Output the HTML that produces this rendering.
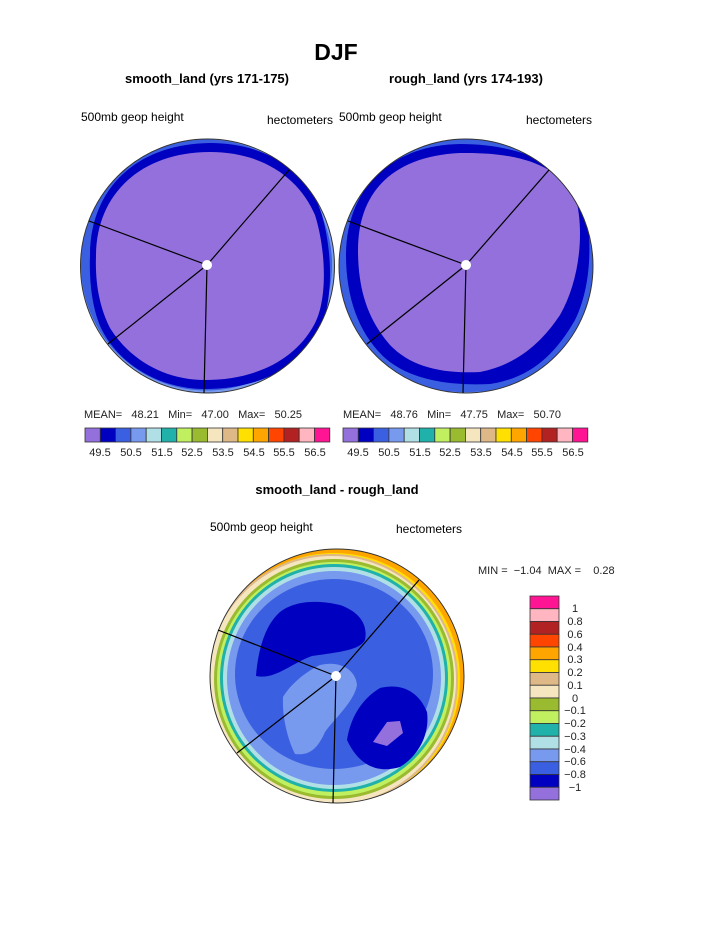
<!DOCTYPE html>
<html><head><meta charset="utf-8"><style>body{margin:0;background:#fff}svg{display:block}text{font-family:"Liberation Sans",sans-serif;white-space:pre}</style></head><body>
<svg width="723" height="935" viewBox="0 0 723 935">
<defs>
<clipPath id="cb"><circle cx="337" cy="676" r="127"/></clipPath>
<clipPath id="cl"><circle cx="207.5" cy="266" r="127"/></clipPath>
<clipPath id="cr"><circle cx="466" cy="266" r="127"/></clipPath>
</defs>
<text x="336" y="60" font-size="23" font-weight="bold" text-anchor="middle">DJF</text>
<text x="207" y="83" font-size="13" font-weight="bold" text-anchor="middle">smooth_land (yrs 171-175)</text>
<text x="466" y="83" font-size="13" font-weight="bold" text-anchor="middle">rough_land (yrs 174-193)</text>
<text x="81" y="121" font-size="12">500mb geop height</text>
<text x="267" y="124" font-size="12">hectometers</text>
<text x="339" y="121" font-size="12">500mb geop height</text>
<text x="526" y="124" font-size="12">hectometers</text>
<!-- left circle -->
<g clip-path="url(#cl)">
<circle cx="207.5" cy="266" r="127" fill="#7799ee"/>
<circle cx="206.5" cy="265" r="125.5" fill="#3a5fe0"/>
<path d="M90,255 C90,190 135,144 210,143 C270,143 310,175 322,215 C333,255 333,300 320,330 C300,370 255,389 205,389 C160,389 120,365 102,330 C92,310 89,280 90,255Z" fill="#0000c0"/>
<path d="M96,256 C96,195 140,152 210,152 C265,152 300,180 315,215 C326,250 328,300 314,325 C295,360 255,380 205,380 C165,380 130,360 110,328 C100,308 95,285 96,256Z" fill="#9370db"/>
</g>
<circle cx="207.5" cy="266" r="127" fill="none" stroke="#333" stroke-width="1"/>
<g stroke="#000" stroke-width="1.2"><line x1="207" y1="265" x2="89" y2="221"/><line x1="207" y1="265" x2="289" y2="170"/><line x1="207" y1="265" x2="108" y2="344"/><line x1="207" y1="265" x2="204" y2="393"/></g>
<circle cx="207" cy="265" r="5" fill="#fff"/>
<!-- right circle -->
<g clip-path="url(#cr)">
<circle cx="466" cy="266" r="127" fill="#7799ee"/>
<path d="M339,262 C339,190 390,139 466,139 C540,139 593,190 593,262 C593,300 585,330 570,355 C545,385 500,392 466,392 C420,392 385,380 365,355 C348,330 339,300 339,262Z" fill="#3a5fe0"/>
<path d="M346,255 C346,190 390,145 460,144 C520,144 565,165 585,200 C592,240 592,285 575,320 C555,355 530,378 490,384 C450,386 410,380 385,358 C360,335 346,300 346,255Z" fill="#0000c0"/>
<path d="M358,250 C358,190 395,156 460,153 C520,152 555,165 575,195 C585,230 580,280 560,315 C540,345 515,365 480,372 C440,374 410,366 390,345 C368,320 358,290 358,250Z" fill="#9370db"/>
</g>
<circle cx="466" cy="266" r="127" fill="none" stroke="#333" stroke-width="1"/>
<g stroke="#000" stroke-width="1.2"><line x1="466" y1="265" x2="348" y2="221"/><line x1="466" y1="265" x2="549" y2="170"/><line x1="466" y1="265" x2="367" y2="344"/><line x1="466" y1="265" x2="463" y2="393"/></g>
<circle cx="466" cy="265" r="5" fill="#fff"/>
<!-- top colorbars -->
<g font-size="11" fill="#222">
<text x="84" y="418" xml:space="preserve">MEAN=   48.21   Min=   47.00   Max=   50.25</text>
<text x="343" y="418" xml:space="preserve">MEAN=   48.76   Min=   47.75   Max=   50.70</text>
</g>
<g id="cbar" stroke="#333" stroke-width="0.8">
<rect x="85" y="428" width="15.3" height="14" fill="#9370db"/><rect x="100.3" y="428" width="15.3" height="14" fill="#0000c0"/><rect x="115.6" y="428" width="15.3" height="14" fill="#3a5fe0"/><rect x="130.9" y="428" width="15.3" height="14" fill="#7799ee"/><rect x="146.2" y="428" width="15.3" height="14" fill="#b0e0e6"/><rect x="161.5" y="428" width="15.3" height="14" fill="#20b2aa"/><rect x="176.8" y="428" width="15.3" height="14" fill="#c0f060"/><rect x="192.1" y="428" width="15.3" height="14" fill="#9abb30"/><rect x="207.4" y="428" width="15.3" height="14" fill="#f5e6c0"/><rect x="222.7" y="428" width="15.3" height="14" fill="#deb887"/><rect x="238" y="428" width="15.3" height="14" fill="#ffe000"/><rect x="253.3" y="428" width="15.3" height="14" fill="#ffa500"/><rect x="268.6" y="428" width="15.3" height="14" fill="#ff4500"/><rect x="283.9" y="428" width="15.3" height="14" fill="#b22222"/><rect x="299.2" y="428" width="15.3" height="14" fill="#ffb6c1"/><rect x="314.5" y="428" width="15.3" height="14" fill="#ff1493"/>
</g>
<use href="#cbar" x="258"/>
<g font-size="11" fill="#222" text-anchor="middle">
<text x="100" y="456">49.5</text><text x="131" y="456">50.5</text><text x="162" y="456">51.5</text><text x="192" y="456">52.5</text><text x="223" y="456">53.5</text><text x="254" y="456">54.5</text><text x="284" y="456">55.5</text><text x="315" y="456">56.5</text>
<text x="358" y="456">49.5</text><text x="389" y="456">50.5</text><text x="420" y="456">51.5</text><text x="450" y="456">52.5</text><text x="481" y="456">53.5</text><text x="512" y="456">54.5</text><text x="542" y="456">55.5</text><text x="573" y="456">56.5</text>
</g>
<text x="337" y="494" font-size="13" font-weight="bold" text-anchor="middle">smooth_land - rough_land</text>
<text x="210" y="531" font-size="12">500mb geop height</text>
<text x="396" y="533" font-size="12">hectometers</text>
<text x="478" y="574" font-size="11" fill="#222" xml:space="preserve">MIN =  −1.04  MAX =    0.28</text>
<!-- bottom circle -->
<g clip-path="url(#cb)">
<circle cx="337" cy="676" r="127" fill="#ffa500"/>
<circle cx="334" cy="679" r="126" fill="#ffe000"/>
<circle cx="332" cy="680" r="126" fill="#deb887"/>
<circle cx="332" cy="680" r="124" fill="#f5e6c0"/>
<circle cx="334" cy="679" r="120" fill="#9abb30"/>
<circle cx="334" cy="679" r="117" fill="#c0f060"/>
<circle cx="334" cy="678" r="114" fill="#20b2aa"/>
<circle cx="334" cy="678" r="111" fill="#b0e0e6"/>
<circle cx="334" cy="678" r="107" fill="#7799ee"/>
<ellipse cx="334" cy="674" rx="99" ry="95" fill="#3a5fe0"/>
<path d="M256,676 C258,650 265,625 280,612 C295,600 320,600 340,605 C360,612 368,625 365,640 C360,650 340,652 312,656 C290,664 275,680 256,676Z" fill="#0000c0"/>
<path d="M283,697 C290,685 305,672 320,665 C340,660 356,670 357,685 C354,702 335,718 325,732 C318,748 310,756 295,754 C288,740 282,718 283,697Z" fill="#7799ee"/>
<path d="M347,740 C350,720 360,700 380,688 C400,683 418,690 427,712 C430,735 418,756 400,767 C380,773 360,768 347,740Z" fill="#0000c0"/>
<path d="M373,742 L387,722 L400,721 L403,733 L387,746Z" fill="#9370db"/>
</g>
<circle cx="337" cy="676" r="127" fill="none" stroke="#333" stroke-width="1"/>
<g stroke="#000" stroke-width="1.2"><line x1="336" y1="676" x2="218" y2="630"/><line x1="336" y1="676" x2="419" y2="580"/><line x1="336" y1="676" x2="237" y2="753"/><line x1="336" y1="676" x2="333" y2="803"/></g>
<circle cx="336" cy="676" r="5" fill="#fff"/>
<!-- bottom colorbar -->
<g stroke="#333" stroke-width="0.8">
<rect x="530" y="596" width="29" height="12.75" fill="#ff1493"/><rect x="530" y="608.75" width="29" height="12.75" fill="#ffb6c1"/><rect x="530" y="621.5" width="29" height="12.75" fill="#b22222"/><rect x="530" y="634.25" width="29" height="12.75" fill="#ff4500"/><rect x="530" y="647" width="29" height="12.75" fill="#ffa500"/><rect x="530" y="659.75" width="29" height="12.75" fill="#ffe000"/><rect x="530" y="672.5" width="29" height="12.75" fill="#deb887"/><rect x="530" y="685.25" width="29" height="12.75" fill="#f5e6c0"/><rect x="530" y="698" width="29" height="12.75" fill="#9abb30"/><rect x="530" y="710.75" width="29" height="12.75" fill="#c0f060"/><rect x="530" y="723.5" width="29" height="12.75" fill="#20b2aa"/><rect x="530" y="736.25" width="29" height="12.75" fill="#b0e0e6"/><rect x="530" y="749" width="29" height="12.75" fill="#7799ee"/><rect x="530" y="761.75" width="29" height="12.75" fill="#3a5fe0"/><rect x="530" y="774.5" width="29" height="12.75" fill="#0000c0"/><rect x="530" y="787.25" width="29" height="12.75" fill="#9370db"/>
</g>
<g font-size="11" fill="#222" text-anchor="middle">
<text x="575" y="612">1</text><text x="575" y="625">0.8</text><text x="575" y="638">0.6</text><text x="575" y="651">0.4</text><text x="575" y="663">0.3</text><text x="575" y="676">0.2</text><text x="575" y="689">0.1</text><text x="575" y="702">0</text><text x="575" y="714">−0.1</text><text x="575" y="727">−0.2</text><text x="575" y="740">−0.3</text><text x="575" y="753">−0.4</text><text x="575" y="765">−0.6</text><text x="575" y="778">−0.8</text><text x="575" y="791">−1</text>
</g>
</svg>
</body></html>
